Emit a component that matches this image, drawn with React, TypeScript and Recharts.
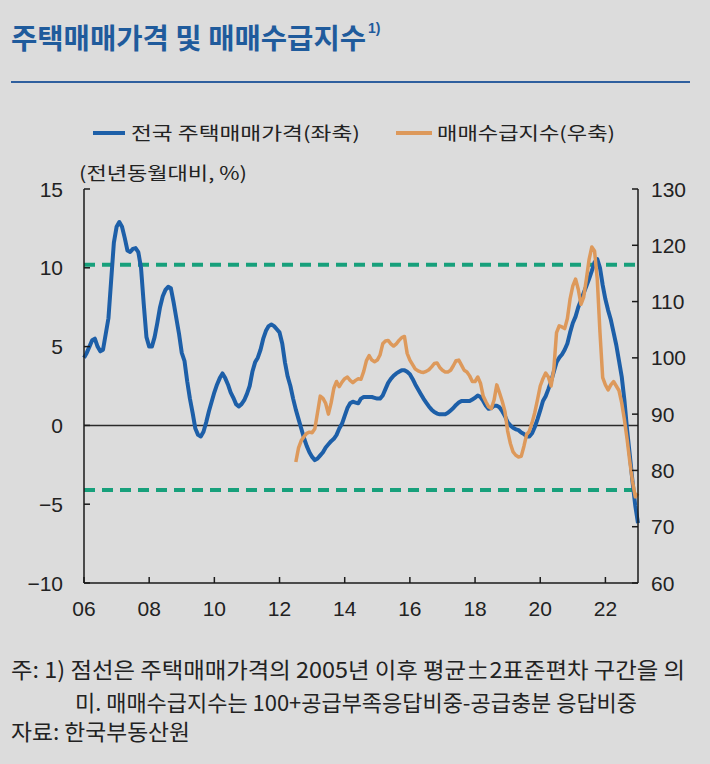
import React from 'react';
import { LineChart, Line, XAxis, YAxis, ReferenceLine } from 'recharts';

// 전국 주택매매가격 전년동월대비 (%), 2006.01 ~ 2023.01 monthly
const priceYoY: number[] = [
  // 2006
  4.3, 4.6, 5.0, 5.4, 5.5, 5.0, 4.7, 4.8, 5.8, 6.8, 9.2, 11.6,
  // 2007
  12.6, 12.9, 12.6, 11.9, 11.1, 11.0, 11.2, 11.25, 11.0, 10.0, 7.7, 5.6,
  // 2008
  5.0, 5.0, 5.6, 6.5, 7.5, 8.2, 8.6, 8.8, 8.7, 7.8, 6.8, 5.8,
  // 2009
  4.6, 4.1, 2.8, 1.7, 0.8, -0.2, -0.6, -0.7, -0.4, 0.2, 0.9, 1.5,
  // 2010
  2.1, 2.6, 3.0, 3.3, 3.0, 2.6, 2.1, 1.75, 1.35, 1.2, 1.35, 1.6,
  // 2011
  2.0, 2.5, 3.4, 4.0, 4.3, 4.8, 5.5, 6.0, 6.3, 6.4, 6.3, 6.1,
  // 2012
  5.9, 5.2, 4.0, 3.1, 2.5, 1.7, 1.0, 0.4, -0.2, -0.8, -1.3, -1.7,
  // 2013
  -2.0, -2.2, -2.1, -1.9, -1.7, -1.4, -1.2, -1.0, -0.85, -0.6, -0.2, 0.1,
  // 2014
  0.6, 1.1, 1.4, 1.5, 1.45, 1.4, 1.7, 1.8, 1.8, 1.8, 1.8, 1.75,
  // 2015
  1.7, 1.7, 1.9, 2.3, 2.7, 2.95, 3.15, 3.3, 3.4, 3.5, 3.5, 3.4,
  // 2016
  3.25, 2.95, 2.6, 2.3, 2.0, 1.7, 1.45, 1.2, 1.0, 0.85, 0.75, 0.7,
  // 2017
  0.7, 0.7, 0.8, 0.95, 1.1, 1.3, 1.45, 1.55, 1.55, 1.55, 1.55, 1.65,
  // 2018
  1.75, 1.9, 1.8, 1.55, 1.25, 1.05, 1.1, 1.25, 1.25, 1.15, 0.9, 0.6,
  // 2019
  0.2, 0.0, -0.15, -0.25, -0.3, -0.45, -0.55, -0.7, -0.7, -0.5, -0.1, 0.4,
  // 2020
  0.95, 1.55, 1.85, 2.3, 2.8, 3.4, 4.0, 4.3, 4.5, 4.8, 5.2, 5.9,
  // 2021
  6.5, 6.9, 7.5, 7.95, 8.4, 8.85, 9.3, 9.8, 10.35, 10.55, 10.0, 8.9,
  // 2022
  8.0, 7.3, 6.7, 5.9, 5.1, 4.1, 3.1, 1.6, -0.3, -1.9, -3.6, -5.1,
  // 2023.01
  -6.2,
];

// 매매수급지수, 2012.07 ~ 2023.01 monthly
const supplyDemandStartIndex = 78; // 2012.07
const supplyDemand: number[] = [
  // 2012.07 ~ 12
  81.5, 84.0, 85.3, 86.0, 86.6, 86.8,
  // 2013
  86.7, 87.4, 90.3, 93.2, 92.8, 91.9, 90.0, 92.0, 94.6, 95.8, 94.9, 95.7,
  // 2014
  96.3, 96.6, 96.0, 95.6, 96.0, 96.3, 96.2, 97.6, 99.5, 100.4, 99.6, 99.3,
  // 2015
  99.6, 100.5, 102.5, 103.0, 103.1, 102.5, 102.1, 102.5, 103.1, 103.6, 103.8, 100.8,
  // 2016
  99.6, 98.8, 98.0, 97.7, 97.5, 97.4, 97.6, 97.9, 98.4, 99.0, 99.1, 98.3,
  // 2017
  97.8, 97.5, 97.5, 97.8, 98.6, 99.5, 99.6, 98.7, 97.8, 97.5, 96.8, 95.8,
  // 2018
  95.8, 96.6, 95.5, 93.2, 92.2, 91.3, 91.0, 92.5, 95.2, 93.8, 92.3, 90.5,
  // 2019
  87.0, 84.8, 83.3, 82.7, 82.4, 82.5, 84.3, 86.4, 87.0, 88.5, 90.3, 92.6,
  // 2020
  95.0, 96.3, 97.3, 96.6, 95.0, 98.0, 104.5, 105.7, 105.5, 105.2, 107.0, 110.5,
  // 2021
  112.8, 114.0, 112.2, 109.5, 110.8, 114.0, 117.5, 119.7, 119.0, 114.0, 104.5, 96.5,
  // 2022
  95.2, 94.3, 95.2, 95.8, 95.0, 94.2, 92.0, 89.0, 85.5, 81.5, 78.0, 75.3,
  // 2023.01
  75.9,
];

const xTickLabels = ['06', '08', '10', '12', '14', '16', '18', '20', '22'];
const leftTicks = [-10, -5, 0, 5, 10, 15];
const rightTicks = [60, 70, 80, 90, 100, 110, 120, 130];
const bandUpper = 10.2;
const bandLower = -4.1;

const data = priceYoY.map((v, i) => ({
  m: i,
  price: v,
  sd: i >= supplyDemandStartIndex ? supplyDemand[i - supplyDemandStartIndex] : null,
}));
const xTicks = xTickLabels.map((_, i) => i * 24);

const BLUE = '#1d5fa8';
const ORANGE = '#dd995b';
const GREEN = '#17a07b';
const BG = '#dcdcdc';
const NUM_FONT = "'Liberation Sans', Arial, sans-serif";
const KR_FONT = "'Noto Sans CJK KR', 'Noto Sans', sans-serif";

const fmt = (v: number) => (v < 0 ? '\u2212' + Math.abs(v) : String(v));

const LeftTick = (props: any) => {
  const { x, y, payload } = props;
  return (
    <g>
      <line x1={x} x2={x + 6} y1={y} y2={y} stroke="#1a1a1a" strokeWidth={1.5} />
      <text x={x - 21} y={y} textAnchor="end" dominantBaseline="central" fontSize={21} fontFamily={NUM_FONT} fill="#222">
        {fmt(payload.value)}
      </text>
    </g>
  );
};

const RightTick = (props: any) => {
  const { x, y, payload } = props;
  return (
    <g>
      <line x1={x} x2={x - 6} y1={y} y2={y} stroke="#1a1a1a" strokeWidth={1.5} />
      <text x={x + 13} y={y} textAnchor="start" dominantBaseline="central" fontSize={21} fontFamily={NUM_FONT} fill="#222">
        {payload.value}
      </text>
    </g>
  );
};

const BottomTick = (props: any) => {
  const { x, y, payload } = props;
  const label = xTickLabels[Math.round(payload.value / 24)];
  return (
    <g>
      <line x1={x} x2={x} y1={y} y2={y - 6} stroke="#1a1a1a" strokeWidth={1.5} />
      <text x={x} y={y + 25} textAnchor="middle" dominantBaseline="central" fontSize={21} fontFamily={NUM_FONT} fill="#222">
        {label}
      </text>
    </g>
  );
};

export default function App() {
  return (
    <div style={{ position: 'absolute', left: 0, top: 0, width: 710, height: 764, background: BG, overflow: 'hidden' }}>
      <div style={{ position: 'absolute', left: 0, top: 0 }}>
        <LineChart width={710} height={764} data={data} margin={{ top: 189, right: 0, bottom: 151, left: 0 }}>
          <XAxis
            dataKey="m"
            type="number"
            domain={[0, 204]}
            ticks={xTicks}
            height={30}
            tickSize={0}
            tickMargin={0}
            tickLine={false}
            axisLine={{ stroke: '#1a1a1a', strokeWidth: 1.5 }}
            tick={<BottomTick />}
            interval={0}
          />
          <YAxis
            yAxisId="left"
            domain={[-10, 15]}
            ticks={leftTicks}
            width={84}
            tickSize={0}
            tickMargin={0}
            tickLine={false}
            axisLine={{ stroke: '#1a1a1a', strokeWidth: 1.5 }}
            tick={<LeftTick />}
            interval={0}
          />
          <YAxis
            yAxisId="right"
            orientation="right"
            domain={[60, 130]}
            ticks={rightTicks}
            width={72}
            tickSize={0}
            tickMargin={0}
            tickLine={false}
            axisLine={{ stroke: '#1a1a1a', strokeWidth: 1.5 }}
            tick={<RightTick />}
            interval={0}
          />
          <ReferenceLine yAxisId="left" y={0} stroke="#2a2a2a" strokeWidth={1.5} />
          <ReferenceLine yAxisId="left" y={bandUpper} stroke={GREEN} strokeWidth={4} strokeDasharray="11 7" />
          <ReferenceLine yAxisId="left" y={bandLower} stroke={GREEN} strokeWidth={4} strokeDasharray="11 7" />
          <Line
            yAxisId="left"
            type="linear"
            dataKey="price"
            stroke={BLUE}
            strokeWidth={4}
            dot={false}
            activeDot={false}
            isAnimationActive={false}
            strokeLinejoin="round"
          />
          <Line
            yAxisId="right"
            type="linear"
            dataKey="sd"
            stroke={ORANGE}
            strokeWidth={3.5}
            dot={false}
            activeDot={false}
            isAnimationActive={false}
            connectNulls={false}
            strokeLinejoin="round"
          />
        </LineChart>
      </div>
      <svg width={710} height={764} style={{ position: 'absolute', left: 0, top: 0, pointerEvents: 'none' }}>
        <text x={11} y={49} fontSize={28} fontWeight={700} fill="#1f5b9c" fontFamily={KR_FONT} textLength={355} lengthAdjust="spacingAndGlyphs">
          주택매매가격 및 매매수급지수
        </text>
        <text x={368} y={33} fontSize={14} fontWeight={700} fill="#1f5b9c" fontFamily={NUM_FONT}>
          1)
        </text>
        <line x1={11} x2={690} y1={82} y2={82} stroke="#2f5f9e" strokeWidth={2} />

        <line x1={93} x2={125} y1={133} y2={133} stroke={BLUE} strokeWidth={4} />
        <text x={131} y={140} fontSize={18} fill="#222" fontFamily={KR_FONT} textLength={229} lengthAdjust="spacingAndGlyphs">
          전국 주택매매가격(좌축)
        </text>
        <line x1={396} x2={432} y1={133} y2={133} stroke={ORANGE} strokeWidth={4} />
        <text x={437} y={140} fontSize={18} fill="#222" fontFamily={KR_FONT} textLength={178} lengthAdjust="spacingAndGlyphs">
          매매수급지수(우축)
        </text>

        <text x={79} y={180} fontSize={18} fill="#222" fontFamily={KR_FONT} textLength={168} lengthAdjust="spacingAndGlyphs">
          (전년동월대비, %)
        </text>

        <text x={11} y={678} fontSize={22} fill="#222" fontFamily={KR_FONT} textLength={674} lengthAdjust="spacingAndGlyphs">
          주: 1) 점선은 주택매매가격의 2005년 이후 평균±2표준편차 구간을 의
        </text>
        <text x={75} y={711} fontSize={22} fill="#222" fontFamily={KR_FONT} textLength={562} lengthAdjust="spacingAndGlyphs">
          미. 매매수급지수는 100+공급부족응답비중-공급충분 응답비중
        </text>
        <text x={11} y={740} fontSize={22} fill="#222" fontFamily={KR_FONT} textLength={179} lengthAdjust="spacingAndGlyphs">
          자료: 한국부동산원
        </text>
      </svg>
    </div>
  );
}
